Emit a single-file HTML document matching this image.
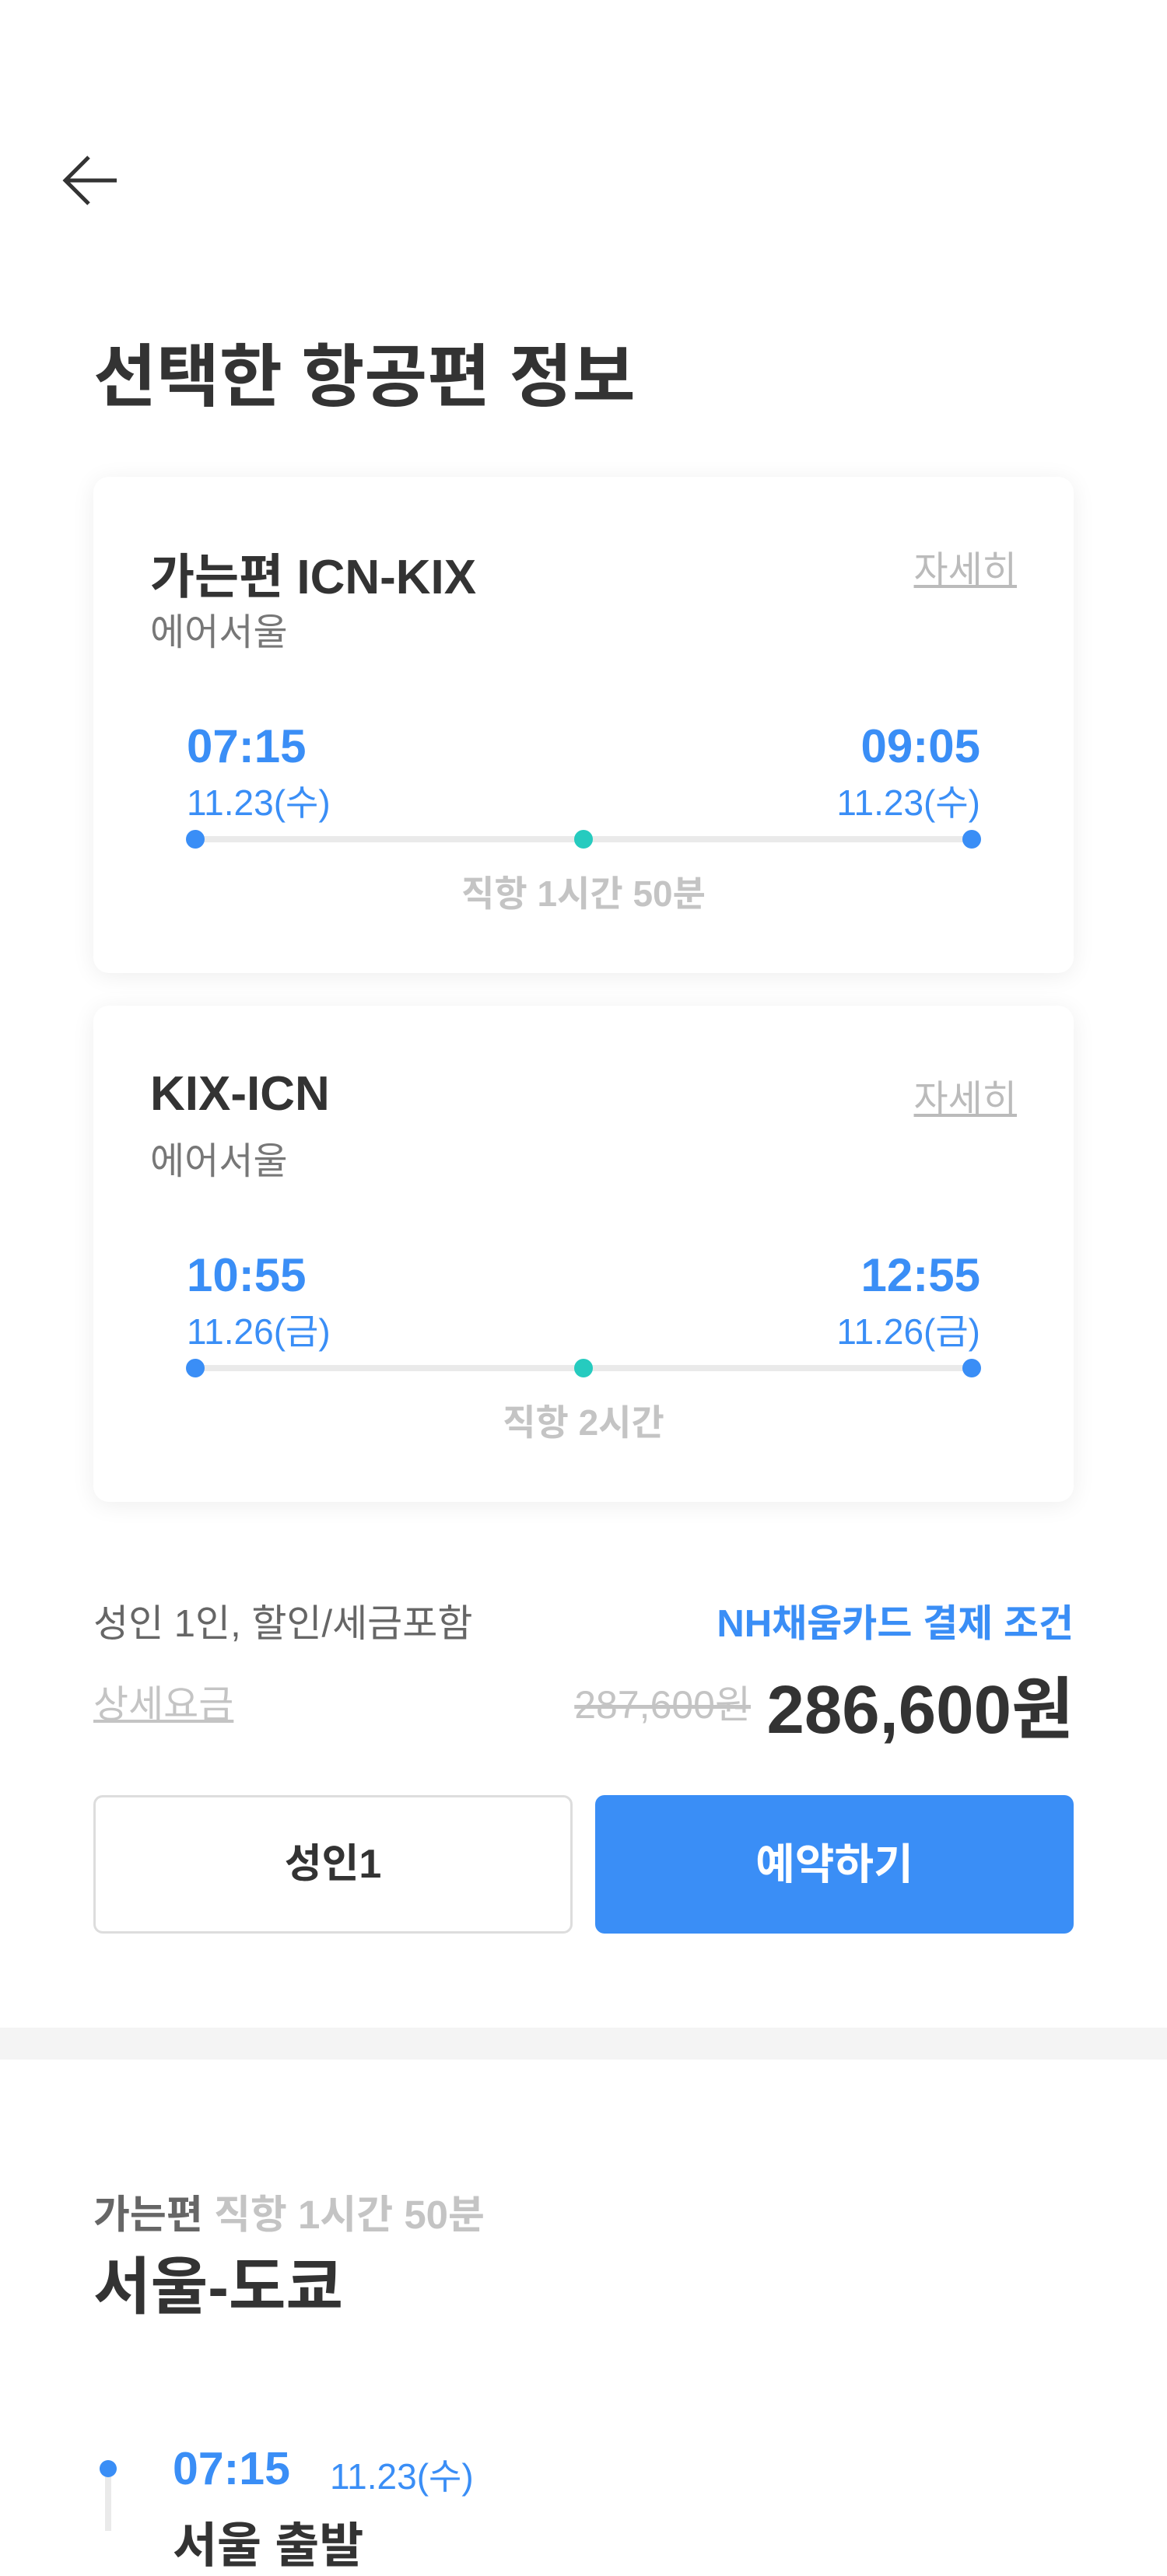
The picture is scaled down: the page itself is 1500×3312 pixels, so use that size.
<!DOCTYPE html>
<html lang="ko"><head><meta charset="utf-8">
<style>
*{margin:0;padding:0;box-sizing:border-box}
body{width:1500px;height:3248px;overflow:hidden;background:#fff;font-family:"Liberation Sans","Noto Sans CJK KR",sans-serif;color:#333;position:relative}
.abs{position:absolute;white-space:nowrap}
.card{position:absolute;left:120px;width:1260px;height:638px;background:#fff;border-radius:20px;box-shadow:0 4px 30px rgba(0,0,0,0.07)}
.ct{left:73px;top:78px;font-size:62px;font-weight:bold;color:#333}
.air{left:73px;top:160px;font-size:48px;color:#777}
.more{right:73px;top:80px;font-size:48px;color:#bbb;text-decoration:underline}
.time{font-size:60px;font-weight:bold;color:#3a8ef6;top:312px}
.date{font-size:46px;color:#3a8ef6;top:383px}
.line{position:absolute;left:131px;width:998px;top:462px;height:8px;background:#eaeaea}
.dot{position:absolute;width:24px;height:24px;border-radius:50%;top:454px;background:#3a8ef6}
.dur{font-size:46px;font-weight:bold;color:#c4c4c4;top:500px;left:0;width:1260px;text-align:center}
</style></head><body>
<svg class="abs" style="left:78px;top:196px" width="76" height="72" viewBox="0 0 76 72"><path d="M72 36H6M36 6L6 36l30 30" fill="none" stroke="#333" stroke-width="5"/></svg>
<div class="abs" style="left:120px;top:414px;font-size:88px;font-weight:bold;color:#333">선택한 항공편 정보</div>

<div class="card" style="top:613px">
<div class="abs ct">가는편 ICN-KIX</div>
<div class="abs air">에어서울</div>
<div class="abs more">자세히</div>
<div class="abs time" style="left:120px">07:15</div>
<div class="abs date" style="left:120px">11.23(수)</div>
<div class="abs time" style="right:120px">09:05</div>
<div class="abs date" style="right:120px">11.23(수)</div>
<div class="line"></div>
<div class="dot" style="left:119px"></div>
<div class="dot" style="left:618px;background:#26cbbf"></div>
<div class="dot" style="left:1117px"></div>
<div class="abs dur">직항 1시간 50분</div>
</div>

<div class="card" style="top:1293px">
<div class="abs ct">KIX-ICN</div>
<div class="abs air">에어서울</div>
<div class="abs more">자세히</div>
<div class="abs time" style="left:120px">10:55</div>
<div class="abs date" style="left:120px">11.26(금)</div>
<div class="abs time" style="right:120px">12:55</div>
<div class="abs date" style="right:120px">11.26(금)</div>
<div class="line"></div>
<div class="dot" style="left:119px"></div>
<div class="dot" style="left:618px;background:#26cbbf"></div>
<div class="dot" style="left:1117px"></div>
<div class="abs dur">직항 2시간</div>
</div>

<div class="abs" style="left:120px;top:2048px;font-size:49px;color:#666">성인 1인, 할인/세금포함</div>
<div class="abs" style="right:120px;top:2048px;font-size:49px;font-weight:bold;color:#3a8ef6">NH채움카드 결제 조건</div>
<div class="abs" style="left:120px;top:2152px;font-size:49px;color:#c4c4c4;text-decoration:underline">상세요금</div>
<div class="abs" style="right:535px;top:2152px;font-size:50px;color:#c4c4c4;text-decoration:line-through">287,600원</div>
<div class="abs" style="right:120px;top:2128px;font-size:87px;font-weight:bold;color:#333">286,600원</div>

<div class="abs" style="left:120px;top:2308px;width:616px;height:178px;border:3px solid #ddd;border-radius:12px;font-size:52px;font-weight:bold;color:#333;text-align:center;line-height:172px">성인1</div>
<div class="abs" style="left:765px;top:2308px;width:615px;height:178px;background:#3a8ef6;border-radius:12px;font-size:55px;font-weight:bold;color:#fff;text-align:center;line-height:178px">예약하기</div>

<div class="abs" style="left:0;top:2607px;width:1500px;height:41px;background:#f4f4f4"></div>

<div class="abs" style="left:120px;top:2806px;font-size:51px;font-weight:bold;color:#666">가는편 <span style="color:#c4c4c4">직항 1시간 50분</span></div>
<div class="abs" style="left:120px;top:2876px;font-size:80px;font-weight:bold;color:#333">서울-도쿄</div>

<div class="abs" style="left:135px;top:3174px;width:8px;height:80px;background:#eaeaea"></div>
<div class="abs" style="left:128px;top:3163px;width:22px;height:22px;border-radius:50%;background:#3a8ef6"></div>
<div class="abs" style="left:222px;top:3140px;font-size:59px;font-weight:bold;color:#3a8ef6">07:15</div>
<div class="abs" style="left:424px;top:3148px;font-size:46px;color:#3a8ef6">11.23(수)</div>
<div class="abs" style="left:222px;top:3222px;font-size:62px;font-weight:bold;color:#333">서울 출발</div>
</body></html>
